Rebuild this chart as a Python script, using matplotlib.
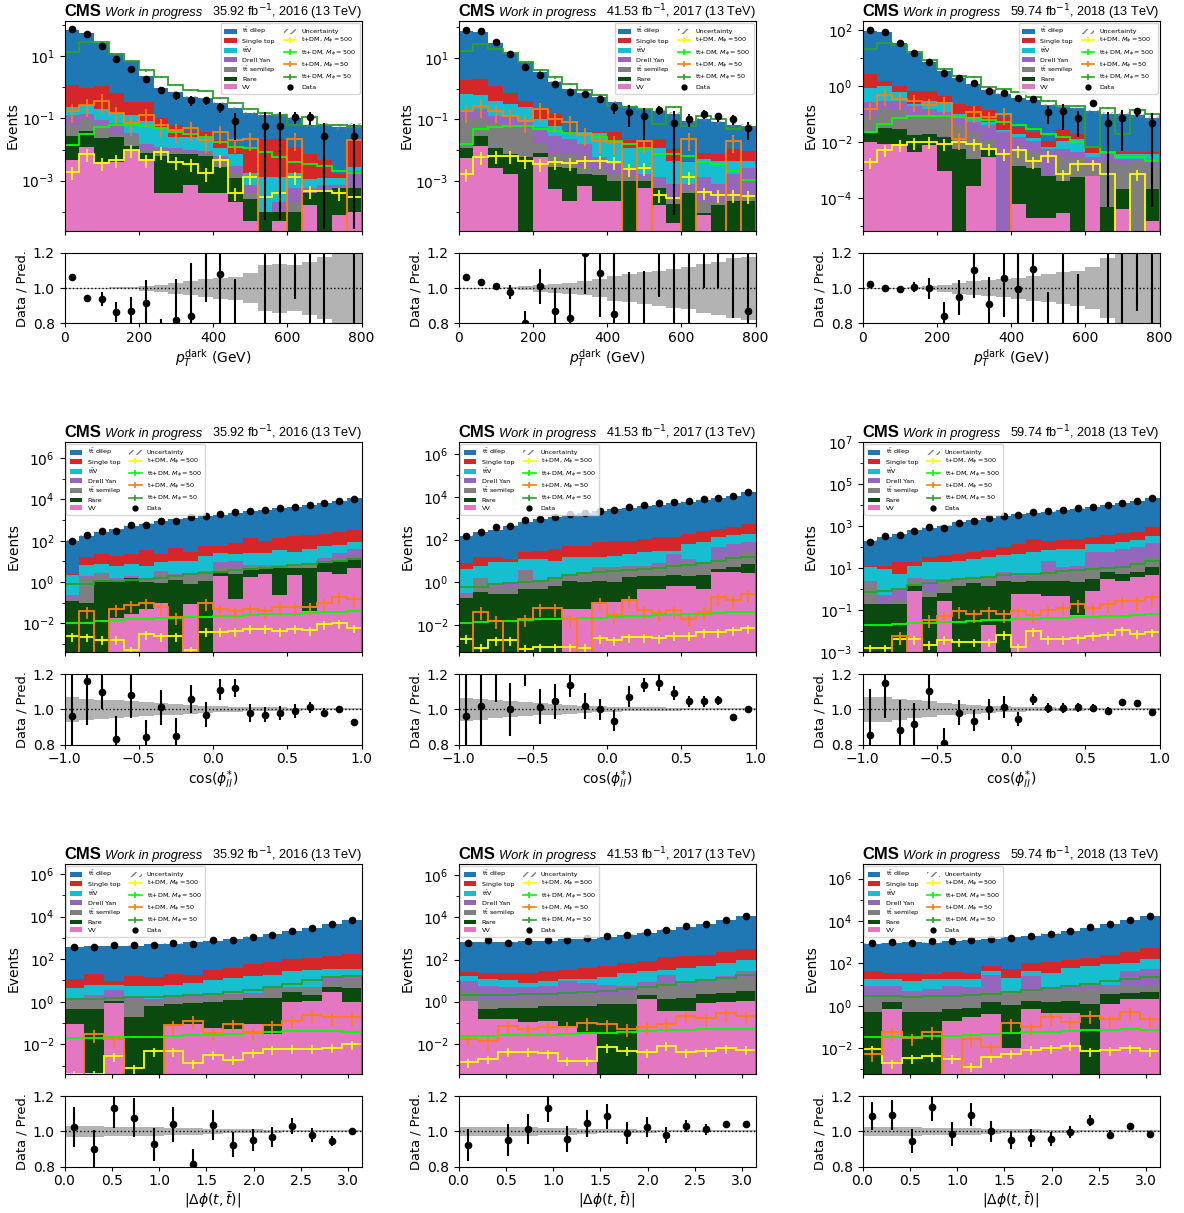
import numpy as np
import matplotlib
matplotlib.use('Agg')
import matplotlib.pyplot as plt
from matplotlib.patches import Patch
from matplotlib.lines import Line2D
from matplotlib.ticker import LogLocator, NullFormatter

plt.rcParams['xtick.major.size'] = 3.0
plt.rcParams['xtick.major.pad'] = 2.5

years = ['2016', '2017', '2018']
lumis = ['35.92', '41.53', '59.74']

# ------------------------------------------------------------------ #
# binning
pt_edges = np.linspace(0., 800., 21)
cos_edges = np.linspace(-1., 1., 21)
dphi_edges = np.linspace(0., np.pi, 16)

# ------------------------------------------------------------------ #
# pT dark : one row per year (2016, 2017, 2018)
pt_vv = [[4.5e-3, 1.2e-2, 4e-3, 4e-3, 1e-2, 5e-3, 4e-4, 4e-4, 7e-4, 4e-4, 4e-4, 2e-4, 5e-5, 0, 5e-5, 0, 1.7e-4, 0, 8e-5, 1e-4],
         [5.6e-3, 1.4e-2, 2.7e-3, 1.7e-3, 0, 6e-3, 5.4e-4, 2.2e-4, 6.8e-4, 2.2e-4, 2.2e-4, 0, 6e-4, 1.7e-4, 4.4e-5, 0, 8e-5, 0, 0, 0],
         [9.7e-3, 8.5e-3, 8.5e-3, 4.3e-3, 7.6e-3, 9.3e-4, 0, 2.7e-4, 2.8e-3, 0, 5.9e-5, 1.9e-5, 1.9e-5, 2.9e-5, 0, 6e-4, 0, 3.8e-5, 0, 1.5e-5]]
pt_rare = [[0.022, 0.028, 0.02, 0.021, 0.003, 0.003, 0.0056, 0.0069, 0.0066, 0.0056, 0.0023, 0.001, 2e-4, 1e-4, 5e-5, 1e-4, 2.3e-4, 5e-4, 5.2e-4, 5e-4],
           [0.0064, 0.015, 0.0093, 0.0058, 0.0058, 0.0023, 0.0022, 0.0025, 0.001, 0.0013, 8e-4, 0.001, 4e-4, 4.3e-4, 1.3e-4, 4e-4, 1e-5, 1.7e-4, 2.2e-4, 2.2e-4],
           [0.012, 0.024, 0.02, 0.013, 0.012, 0.014, 0.0055, 0.0022, 0.0022, 0, 0.0013, 0.0011, 6e-4, 3.8e-4, 5.5e-4, 0, 4.5e-5, 1.6e-4, 0, 1.9e-4]]
pt_semi = [[0.033, 0.048, 0.03, 0.007, 0.015, 0.002, 0.003, 0.0017, 7e-4, 0.001, 0.0013, 6e-4, 1.5e-4, 0, 0, 1e-4, 0, 0, 0, 0],
           [0.088, 0.086, 0.058, 0.055, 0.042, 0.008, 0.0048, 0.0048, 0.001, 7e-4, 8e-4, 5e-4, 2e-4, 1e-4, 1.3e-4, 1e-4, 1.1e-4, 3e-5, 8e-5, 8e-5],
           [0.066, 0.118, 0.111, 0.071, 0.068, 0.055, 0.034, 0.02, 0.008, 0, 0.004, 0.0032, 0, 0.0024, 0.0022, 6e-4, 0.002, 0.0014, 0.0021, 0.001]]
pt_dy = [[0.07, 0.052, 0.034, 0.038, 0.007, 0.005, 0.003, 0.002, 0.002, 0.002, 0.002, 0.0012, 3e-4, 0, 1e-4, 4e-4, 2e-4, 2e-4, 1e-4, 1.5e-3],
         [0.07, 0.105, 0.06, 0.053, 0.032, 0.039, 0.021, 0.015, 0.013, 0.0038, 0.0017, 0.0012, 5e-4, 6e-4, 4.7e-4, 2.7e-4, 0.0011, 5.7e-4, 0.0014, 0.0024],
         [0.18, 0.15, 0.16, 0.1, 0.062, 0.05, 0.031, 0.028, 0.026, 0.022, 0.0095, 0.0067, 0.005, 0.0027, 0.0015, 0.0016, 0.0016, 9e-4, 4e-4, 7e-4]]
pt_ttv = [[0.11, 0.13, 0.12, 0.075, 0.095, 0.065, 0.036, 0.015, 0.016, 0.017, 0.005, 0.0043, 0.001, 0.0012, 0.0011, 0.0011, 5e-4, 5e-4, 5e-4, 6e-4],
          [0.5, 0.38, 0.27, 0.2, 0.17, 0.045, 0.033, 0.012, 0.022, 0.029, 0.0165, 0.0093, 0.0093, 0.0107, 0.0037, 0.0032, 0.0037, 0.0037, 0.0028, 0.0018],
          [0.6, 0.7, 0.3, 0.04, 0.15, 0.11, 0.03, 0.027, 0.011, 0.005, 0.004, 0.003, 0.001, 0.0055, 0.0087, 0.0012, 6e-4, 0.0012, 0.0012, 0.0019]]
pt_st = [[0.96, 0.66, 0.89, 0.5, 0.22, 0.27, 0.052, 0.034, 0.011, 0.011, 0.009, 0.0047, 0.0093, 0.021, 0.021, 0.0103, 0.0059, 0.0033, 4e-4, 0.017],
         [1.23, 1.4, 0.85, 0.38, 0.15, 0.12, 0.088, 0.008, 0.005, 0.003, 0.018, 0.009, 0.007, 0.011, 0.0065, 5e-4, 0.003, 0.003, 0.0065, 0.0051],
         [1.93, 0.6, 0.4, 0.43, 0.4, 0.23, 0.13, 0.113, 0.09, 0.053, 0.015, 0.008, 0.0045, 0.019, 0.006, 0.0025, 2e-4, 8e-4, 8e-4, 7e-4]]
pt_dil = [[71, 55, 26, 12.3, 6.5, 1.95, 0.83, 0.66, 0.46, 0.41, 0.29, 0.2, 0.134, 0.108, 0.108, 0.088, 0.053, 0.058, 0.052, 0.04],
          [75, 69, 30, 13.3, 6.8, 3.2, 1.55, 0.94, 0.66, 0.48, 0.32, 0.26, 0.2, 0.17, 0.14, 0.085, 0.092, 0.072, 0.056, 0.052],
          [95, 86, 34, 14.5, 6.6, 3.0, 1.8, 1.0, 0.59, 0.46, 0.34, 0.3, 0.2, 0.15, 0.14, 0.12, 0.095, 0.095, 0.085, 0.07]]
pt_data = [[77, 53, 21, 8.2, 3.9, 1.9, 0.83, 0.56, 0.39, 0.39, 0.23, 0.084, 0, 0.056, 0.056, 0.113, 0.113, 0.027, 0, 0.027],
           [82, 74, 32, 13.5, 5, 2.8, 1.4, 0.76, 0.67, 0.46, 0.25, 0.18, 0.125, 0.2, 0.076, 0.1, 0.15, 0.125, 0.1, 0.051],
           [100, 87, 35, 15.3, 7.3, 3.0, 1.9, 1.3, 0.67, 0.57, 0.37, 0.35, 0.12, 0.125, 0.073, 0.25, 0.048, 0.073, 0.125, 0.048]]
pt_ratio = [[1.065, 0.945, 0.94, 0.865, 0.87, 0.915, 0.7, 0.82, 0.845, 1.3, 1.08, 0.6, 0, 0.45, 0.45, 1.6, 1.5, 0.5, 0, 0.55],
            [1.065, 1.037, 1.01, 0.98, 0.80, 1.01, 0.87, 0.83, 1.2, 1.085, 0.855, 0.65, 0.6, 1.4, 0.5, 1.35, 1.5, 1.5, 1.3, 0.87],
            [1.023, 1.0, 0.995, 1.008, 1.0, 0.84, 0.948, 1.103, 0.913, 1.057, 0.993, 1.107, 0.6, 0.7, 0.6, 2.0, 0.5, 0.75, 1.35, 0.6]]
pt_rerr = [[0.01, 0.015, 0.04, 0.055, 0.08, 0.13, 0.125, 0.235, 0.3, 0.38, 0.4, 0.45, 0, 0.8, 0.8, 0.66, 0.7, 0.8, 0, 0.8],
           [0.008, 0.012, 0.02, 0.04, 0.07, 0.1, 0.13, 0.17, 0.23, 0.25, 0.35, 0.44, 0.5, 0.45, 0.75, 0.6, 0.5, 0.5, 0.47, 0.5],
           [0.008, 0.005, 0.02, 0.03, 0.06, 0.08, 0.1, 0.16, 0.15, 0.22, 0.27, 0.3, 0.38, 0.55, 0.48, 0.6, 0.75, 0.7, 0.48, 0.75]]
pt_unc = [[0.003, 0.003, 0.004, 0.005, 0.007, 0.013, 0.02, 0.03, 0.04, 0.05, 0.06, 0.065, 0.085, 0.13, 0.14, 0.13, 0.15, 0.175, 0.2, 0.22],
          [0.003, 0.003, 0.003, 0.006, 0.012, 0.02, 0.025, 0.03, 0.04, 0.05, 0.07, 0.08, 0.09, 0.1, 0.11, 0.12, 0.14, 0.15, 0.17, 0.18],
          [0.002, 0.002, 0.003, 0.005, 0.01, 0.02, 0.03, 0.04, 0.045, 0.05, 0.06, 0.07, 0.08, 0.09, 0.1, 0.12, 0.17, 0.2, 0.21, 0.22]]
pt_y500 = [[0.0019, 0.0072, 0.0036, 0.0046, 0.01, 0.0046, 0.0085, 0.004, 0.0035, 0.0017, 0.0045, 4e-4, 0.0013, 3e-4, 4e-4, 0.0013, 4.5e-4, 4.5e-4, 4e-4, 3e-4],
           [0.0017, 0.0058, 0.0066, 0.0066, 0.0045, 0.0035, 0.004, 0.0037, 0.0045, 0.0045, 0.004, 0.0024, 0.0027, 3.6e-4, 2.8e-4, 0.0013, 4.2e-4, 3.6e-4, 3.6e-4, 3.3e-4],
           [0.0019, 0.0052, 0.0081, 0.0097, 0.01, 0.0085, 0.0097, 0.0085, 0.0056, 0.0037, 0.005, 0.002, 0.0032, 7e-4, 0.0016, 0.0016, 7e-4, 0, 7e-4, 0]]
pt_l500 = [[0.014, 0.032, 0.054, 0.06, 0.06, 0.058, 0.048, 0.037, 0.032, 0.025, 0.018, 0.012, 0.011, 0.0085, 0.0056, 0.004, 0.0035, 0.003, 0.0021, 0.0017],
           [0.0157, 0.048, 0.057, 0.062, 0.062, 0.048, 0.041, 0.036, 0.032, 0.026, 0.02, 0.016, 0.012, 0.0075, 0.0075, 0.0066, 0.004, 0.0035, 0.0021, 0.0011],
           [0.022, 0.045, 0.07, 0.088, 0.088, 0.088, 0.077, 0.07, 0.06, 0.05, 0.039, 0.029, 0.019, 0.015, 0.0097, 0.0065, 0.0043, 0.0028, 0.0028, 0.0021]]
pt_o50 = [[0.18, 0.27, 0.37, 0.15, 0.07, 0.13, 0.06, 0.042, 0.048, 0.02, 0.037, 0.02, 0.022, 0, 0, 0.022, 0, 0, 0, 0.02],
          [0.19, 0.28, 0.19, 0.13, 0.09, 0.22, 0.1, 0.08, 0.033, 0.02, 0.018, 0, 0.02, 0, 0, 0.023, 0, 0, 0.02, 0],
          [0.15, 0.49, 0.35, 0.3, 0.22, 0.26, 0.013, 0.12, 0.077, 0.1, 0, 0, 0, 0, 0, 0, 0, 0, 0, 0]]
pt_g50 = [[14, 28, 28, 12, 7, 3.5, 2.2, 1.2, 0.8, 0.75, 0.45, 0.32, 0.2, 0.15, 0.13, 0.06, 0.11, 0.06, 0.06, 0.055],
          [17, 29, 20, 14, 7.2, 3.9, 2.3, 1.4, 0.9, 0.6, 0.28, 0.25, 0.22, 0.07, 0.26, 0.06, 0.13, 0.1, 0.048, 0.055],
          [22, 35, 29, 17, 8.6, 4.2, 2.4, 2.2, 0.9, 0.8, 0.6, 0.4, 0.3, 0.19, 0.19, 0.0065, 0.17, 0.019, 0.14, 0.1]]

# ------------------------------------------------------------------ #
# cos(phi*_ll)
cos_vv = [[0, 0, 0, 0.018, 0.027, 0.05, 0.1, 0, 0.09, 0, 2, 0.15, 1.7, 2.5, 0.24, 2.3, 0.04, 3, 2.5, 4.8],
          [0, 0, 0, 0, 0, 0, 0, 0.057, 0.057, 0.12, 0.12, 0.17, 0.49, 0.49, 0.7, 0.7, 0.49, 2.9, 3, 2.7],
          [0, 0, 0, 0.83, 0, 0.27, 0, 0, 0.02, 0, 0.57, 0.57, 0.48, 0.48, 0.06, 0.83, 3, 2.5, 3.7, 4.5]]
cos_rare = [[0.12, 0.1, 1.2, 1.06, 1.47, 0.91, 0.8, 1.2, 0.71, 1.15, 1.6, 2.35, 3.3, 2.5, 4.8, 2.7, 5, 5, 7.5, 10],
            [0.19, 0.34, 0.28, 0.28, 0.49, 0.49, 0.7, 1.14, 0.94, 1.08, 0.88, 1.53, 1.5, 1.5, 1.6, 1.3, 1.8, 1.3, 2, 4.5],
            [0.19, 0.19, 0.19, 0.57, 0.4, 0.42, 1.4, 2, 1.38, 2.5, 1.53, 1.93, 2.0, 2.0, 2.04, 2.2, 3.4, 2.5, 2.7, 6.5]]
cos_semi = [[0.03, 1.7, 1.3, 0.17, 0.2, 0.24, 1.9, 1.0, 1.7, 1.85, 1.4, 2.5, 1.0, 1, 1, 1, 2, 2, 4, 3],
            [0.06, 1.16, 0.32, 0.32, 3.0, 0.5, 1.0, 0.8, 1.4, 3.8, 3.5, 3.3, 3, 4, 5.7, 7, 5.7, 7.8, 12, 20],
            [1.9, 0.04, 0.11, 1.6, 0.3, 2.3, 1.6, 1.0, 2.1, 1.5, 1.9, 2.5, 3.5, 4.5, 5.9, 5, 4.6, 8, 13.6, 23]]
cos_dy = [[0.08, 0.2, 0.3, 0.35, 0.3, 0.3, 0.8, 0.3, 0.3, 0.5, 4, 6, 1.0, 0.5, 1, 0.5, 1, 4, 11, 22],
          [0.05, 0.1, 0.24, 0.4, 0.1, 0.3, 0.1, 0.2, 0.2, 0.2, 0.5, 1, 1, 2, 13, 3, 1, 34, 45, 47],
          [0.4, 0.27, 0.8, 0.5, 2.3, 0.2, 0.2, 0.5, 0.5, 2.4, 0.5, 0.3, 17, 5, 5, 52, 49, 73, 80, 126]]
cos_ttv = [[2.07, 5.0, 4.8, 4.7, 5.6, 4.8, 5.4, 8.5, 8.2, 14.5, 16, 12, 20, 19, 27, 22, 33, 40, 35, 48],
           [3.9, 4.4, 7.8, 7.6, 8.4, 10.7, 8.2, 12.8, 12.4, 10.8, 12, 15, 19, 22, 9, 48, 65, 81, 98, 106],
           [8.5, 8.8, 4.2, 9.5, 16, 15.8, 19.8, 22.5, 30, 34.6, 44.5, 54, 48, 68, 73, 90, 80, 94, 110, 190]]
cos_st = [[0.3, 10, 15.4, 12.7, 15.4, 27.7, 14, 33, 19, 36, 29, 55, 115, 73, 106, 137, 144, 166, 210, 262],
          [3.5, 10, 6.4, 3.4, 13, 18, 26, 33, 33, 64, 71, 64, 81, 97, 100, 120, 186, 183, 210, 350],
          [2, 3.7, 14.7, 7, 15, 22, 22, 33, 43, 59, 86, 201, 119, 140, 164, 160, 240, 280, 300, 610]]
cos_dil = [[100, 155, 250, 340, 505, 645, 870, 1075, 1245, 1545, 1660, 2110, 2720, 3100, 3690, 4080, 5060, 6520, 7930, 11480],
           [138, 200, 270, 438, 605, 867, 1084, 1326, 1658, 2020, 2479, 2999, 3490, 4134, 5008, 5849, 7013, 8357, 10939, 16470],
           [186, 283, 410, 625, 836, 1038, 1486, 1866, 2373, 3059, 3573, 4096, 4870, 5633, 6766, 8222, 10125, 12016, 14919, 22390]]
cos_data = [[98, 200, 300, 300, 570, 570, 900, 950, 1350, 1550, 1900, 2450, 2800, 3100, 3750, 4200, 5300, 6600, 8200, 11000],
            [140, 220, 370, 450, 820, 910, 1170, 1560, 1740, 2100, 2400, 3300, 4100, 4900, 5600, 6300, 7600, 9100, 10800, 17000],
            [170, 340, 380, 590, 960, 870, 1500, 1800, 2450, 3200, 3500, 4600, 5100, 5900, 7100, 8600, 10400, 13000, 16000, 23000]]
cos_ratio = [[0.96, 1.16, 1.10, 0.83, 1.08, 0.84, 1.01, 0.85, 1.06, 0.97, 1.11, 1.12, 0.98, 0.97, 0.98, 0.99, 1.01, 0.98, 1.0, 0.93],
             [0.96, 1.02, 1.3, 1.0, 1.3, 1.015, 1.045, 1.135, 1.02, 1.0, 0.935, 1.07, 1.14, 1.15, 1.09, 1.045, 1.045, 1.05, 0.955, 1.0],
             [0.854, 1.148, 0.883, 0.915, 1.104, 0.806, 0.98, 0.935, 1.0, 1.013, 0.944, 1.056, 1.008, 1.008, 1.012, 1.008, 0.99, 1.042, 1.037, 0.985]]
cos_rerr = [[0.3, 0.25, 0.1, 0.13, 0.13, 0.1, 0.1, 0.1, 0.08, 0.07, 0.06, 0.05, 0.05, 0.04, 0.04, 0.04, 0.03, 0.025, 0.02, 0.015],
            [0.3, 0.25, 0.26, 0.15, 0.17, 0.1, 0.1, 0.065, 0.075, 0.06, 0.06, 0.06, 0.04, 0.045, 0.04, 0.03, 0.03, 0.025, 0.02, 0.015],
            [0.26, 0.2, 0.17, 0.12, 0.1, 0.09, 0.07, 0.06, 0.06, 0.06, 0.04, 0.03, 0.03, 0.03, 0.025, 0.02, 0.02, 0.015, 0.01, 0.01]]
cos_unc = [[0.07, 0.06, 0.055, 0.05, 0.045, 0.04, 0.035, 0.03, 0.025, 0.02, 0.018, 0.015, 0.012, 0.01, 0.01, 0.008, 0.007, 0.006, 0.005, 0.005],
           [0.065, 0.06, 0.05, 0.045, 0.04, 0.035, 0.03, 0.025, 0.02, 0.017, 0.015, 0.012, 0.01, 0.01, 0.008, 0.007, 0.006, 0.006, 0.005, 0.005],
           [0.07, 0.07, 0.06, 0.05, 0.045, 0.035, 0.03, 0.025, 0.02, 0.017, 0.015, 0.012, 0.01, 0.009, 0.008, 0.007, 0.006, 0.005, 0.005, 0.005]]
cos_y500 = [[0.0024, 0.0022, 0.0016, 0.0016, 5e-4, 0.003, 0.0024, 0.0024, 5e-4, 0.0039, 0.0039, 0.0041, 0.0056, 0.0056, 0.0041, 0.0056, 0.0046, 0.009, 0.01, 0.006],
            [0.0023, 8.5e-4, 0.0019, 0.0019, 7.8e-4, 9e-4, 9e-4, 9e-4, 8.5e-4, 0.0024, 0.0019, 0.0027, 0.0027, 0.0024, 0.0032, 0.0032, 0.0046, 0.0046, 0.0055, 0.0071],
            [0.0015, 0.0015, 0.004, 0.004, 0.0022, 0.0039, 0.003, 0.003, 0.003, 0.0066, 0.0017, 0.0097, 0.004, 0.004, 0.0045, 0.006, 0.0065, 0.011, 0.0075, 0.009]]
cos_l500 = [[0.010, 0.011, 0.013, 0.015, 0.016, 0.017, 0.018, 0.019, 0.02, 0.021, 0.022, 0.023, 0.025, 0.027, 0.028, 0.030, 0.032, 0.034, 0.036, 0.038],
            [0.013, 0.014, 0.015, 0.016, 0.017, 0.018, 0.019, 0.02, 0.021, 0.022, 0.024, 0.026, 0.027, 0.028, 0.03, 0.031, 0.033, 0.036, 0.039, 0.042],
            [0.019, 0.02, 0.022, 0.023, 0.025, 0.026, 0.028, 0.03, 0.032, 0.034, 0.036, 0.038, 0.04, 0.042, 0.045, 0.048, 0.05, 0.055, 0.06, 0.065]]
cos_o50 = [[0, 0.04, 0, 0.05, 0.08, 0.1, 0.06, 0.02, 0, 0.1, 0.05, 0.04, 0.05, 0.04, 0.06, 0.06, 0.06, 0.1, 0.2, 0.15],
           [0, 0.042, 0.016, 0, 0.019, 0.06, 0.06, 0.019, 0, 0.11, 0.028, 0.14, 0.05, 0.036, 0.05, 0.019, 0.042, 0.2, 0.14, 0.27],
           [0, 0, 0.0056, 0, 0.035, 0.05, 0.09, 0.062, 0.09, 0.062, 0.09, 0.06, 0.1, 0.13, 0.19, 0.13, 0.19, 0.27, 0.26, 0.4]]
cos_g50 = [[0.8, 0.8, 1.1, 1.1, 1.2, 1.4, 1.6, 2.0, 2.4, 2.8, 3.2, 3.8, 4.2, 4.8, 5.5, 6.5, 7.5, 9, 11, 13],
           [0.6, 0.6, 0.8, 0.9, 1.0, 1.2, 1.6, 2.3, 2.7, 3.0, 3.3, 3.8, 4.3, 4.7, 5.5, 6.5, 8, 10, 13, 16],
           [0.7, 0.8, 1.0, 1.5, 2.0, 2.5, 3, 3.5, 4, 4.5, 5, 5.5, 6, 7, 8, 9, 10, 12, 16, 22]]

# ------------------------------------------------------------------ #
# |delta phi(t, tbar)|
dphi_vv = [[0.09, 0, 0.9, 0, 0, 0.076, 0.09, 0.056, 0.05, 0.09, 0.03, 1.0, 1.07, 3, 1.0],
           [1.07, 0.15, 0.15, 0.11, 0.12, 0.07, 0.03, 0, 0, 1.3, 0.36, 0.36, 0.9, 1.0, 1.07],
           [0, 0.7, 0, 0, 0.2, 0.28, 0.4, 0.01, 0.7, 0.45, 0.45, 0, 1.2, 2, 2]]
dphi_rare = [[0.39, 0.48, 0.2, 0.2, 0.64, 0.75, 0.74, 0.94, 1.15, 1.4, 1.47, 2.0, 1.0, 2.2, 3.4],
             [0, 0.28, 0.37, 0.41, 0.5, 0.55, 0.62, 0.75, 0.75, 0.8, 0.94, 1.14, 1.3, 1.7, 2.1],
             [0.49, 0.8, 0.49, 0.49, 0.5, 0.47, 1.1, 1.06, 1.0, 1.05, 1.25, 1.2, 2.3, 2.2, 2.5]]
dphi_semi = [[0.9, 0.9, 0.6, 1.2, 0.46, 0.57, 0.87, 0.8, 0.8, 0.7, 2.9, 1.5, 2.4, 3.8, 7.6],
             [2.1, 0.87, 0.88, 1.0, 1.0, 1.4, 1.45, 1.35, 1.65, 3.4, 4.2, 4.0, 5.8, 8.3, 11.8],
             [2.7, 1.5, 2.0, 2.5, 2.3, 2.25, 2.8, 2.4, 3.1, 2.8, 3.8, 5.1, 4, 5.3, 4.5]]
dphi_dy = [[0.2, 0.8, 1.9, 0.2, 0.2, 0.2, 0.3, 0.2, 0.3, 0.3, 0.6, 0.7, 0.5, 4, 4],
           [6.3, 4.2, 3.6, 3.5, 3.9, 7.5, 5.9, 3.9, 3.1, 3.5, 13.5, 2.5, 4, 5, 13],
           [5.5, 5.7, 2.5, 3, 5.7, 4.5, 22.7, 1.5, 20, 2.7, 3.5, 3.2, 2.5, 34.5, 43]]
dphi_ttv = [[2.8, 3.7, 2.7, 4.0, 4.0, 4.4, 5.6, 9, 10.7, 13.5, 14, 21.8, 25, 20, 17],
            [7.5, 6.5, 6, 2.9, 4, 2.5, 4, 9, 17.5, 19, 12, 32, 36, 49, 72],
            [10.3, 9.3, 10, 12, 9.3, 11.5, 17, 16, 19, 27, 54, 65.5, 80, 63, 113]]
dphi_st = [[7.6, 14, 2.7, 10.4, 8.7, 14, 11.4, 19, 27, 46, 58, 73, 90, 112, 142],
           [8, 11, 13, 15, 18.5, 21, 28, 33, 42, 55, 99, 100, 122, 155, 220],
           [25, 16, 19, 12, 21, 17, 31, 31, 56, 81, 87, 110, 170, 233, 375]]
dphi_dil = [[368, 381, 407, 420, 494, 518, 617, 704, 848, 1096, 1391, 1978, 2900, 4405, 6725],
            [638, 629, 618, 696, 751, 888, 927, 1113, 1470, 1819, 2523, 3501, 4780, 7184, 11218],
            [813, 883, 950, 935, 1078, 1179, 1355, 1629, 1875, 2450, 3368, 4532, 6781, 10825, 16211]]
dphi_data = [[390, 360, 470, 470, 470, 560, 520, 760, 820, 1100, 1420, 2140, 2960, 4300, 6900],
             [610, 880, 610, 730, 880, 880, 1010, 1260, 1520, 1950, 2600, 3750, 5000, 7700, 12000],
             [930, 1000, 930, 1100, 1100, 1330, 1430, 1600, 1900, 2450, 3500, 5000, 6900, 11500, 16500]]
dphi_ratio = [[1.025, 0.897, 1.13, 1.077, 0.926, 1.04, 0.817, 1.035, 0.923, 0.95, 0.967, 1.03, 0.98, 0.945, 1.0],
              [0.92, 1.35, 0.95, 1.015, 1.13, 0.955, 1.045, 1.085, 0.99, 1.025, 0.98, 1.03, 1.01, 1.04, 1.04],
              [1.085, 1.09, 0.945, 1.14, 0.985, 1.095, 1.0, 0.952, 0.962, 0.955, 0.995, 1.06, 0.98, 1.03, 0.985]]
dphi_rerr = [[0.115, 0.11, 0.11, 0.11, 0.095, 0.1, 0.085, 0.085, 0.07, 0.06, 0.055, 0.045, 0.04, 0.03, 0.015],
             [0.09, 0.1, 0.09, 0.085, 0.08, 0.075, 0.075, 0.07, 0.06, 0.055, 0.045, 0.035, 0.03, 0.02, 0.015],
             [0.08, 0.085, 0.07, 0.08, 0.07, 0.065, 0.06, 0.05, 0.05, 0.04, 0.035, 0.03, 0.025, 0.015, 0.01]]
dphi_unc = [[0.03, 0.03, 0.025, 0.025, 0.025, 0.02, 0.02, 0.015, 0.012, 0.01, 0.008, 0.007, 0.006, 0.005, 0.005],
            [0.025, 0.025, 0.025, 0.025, 0.02, 0.02, 0.015, 0.012, 0.01, 0.008, 0.007, 0.006, 0.005, 0.005, 0.005],
            [0.025, 0.025, 0.025, 0.02, 0.02, 0.02, 0.015, 0.012, 0.01, 0.009, 0.008, 0.007, 0.006, 0.005, 0.005]]
dphi_y500 = [[4e-4, 4e-4, 0.0028, 7.5e-4, 0.0048, 0.0048, 0.0013, 0.0033, 0.0019, 0.004, 0.0058, 0.0062, 0.0062, 0.0069, 0.01],
             [0.0013, 0.0019, 0.0042, 0.0042, 0.0036, 0.0016, 0.0016, 0.0067, 0.0047, 0.0039, 0.008, 0.0039, 0.0045, 0.006, 0.0052],
             [0.0087, 0.0019, 0.0034, 0.0042, 0.0032, 0.0013, 0.0038, 0.0055, 0.0084, 0.01, 0.013, 0.007, 0.0078, 0.01, 0.0073]]
dphi_l500 = [[0.019, 0.02, 0.021, 0.022, 0.023, 0.025, 0.026, 0.028, 0.03, 0.033, 0.037, 0.041, 0.043, 0.042, 0.037],
             [0.023, 0.024, 0.025, 0.026, 0.027, 0.029, 0.031, 0.033, 0.036, 0.04, 0.043, 0.047, 0.05, 0.051, 0.048],
             [0.033, 0.034, 0.035, 0.037, 0.039, 0.042, 0.045, 0.05, 0.055, 0.06, 0.065, 0.07, 0.075, 0.078, 0.075]]
dphi_o50 = [[0, 0.03, 0.017, 0, 0, 0.08, 0.13, 0.034, 0.09, 0.036, 0.08, 0.13, 0.23, 0.19, 0.19],
            [0.017, 0.013, 0.07, 0.05, 0.06, 0.066, 0.1, 0.085, 0.053, 0.066, 0.09, 0.21, 0.16, 0.28, 0.21],
            [0.0055, 0.056, 0.03, 0.06, 0, 0.027, 0.011, 0.15, 0.1, 0.28, 0.18, 0.34, 0.24, 0.49, 0.24]]
dphi_g50 = [[1.4, 1.4, 1.5, 1.6, 1.7, 1.8, 2.0, 2.3, 2.8, 3.5, 5, 7, 11, 14, 17],
            [2.0, 2.0, 2.1, 2.2, 2.3, 2.5, 2.8, 3.2, 3.8, 5, 6.5, 8.5, 11, 14, 18],
            [2.8, 2.8, 2.5, 2.8, 3, 3.2, 3.5, 4.5, 5.5, 7, 8.5, 11, 14, 18, 22]]

# relative MC stat error on the signal templates
sig_relerr = {'y500': 0.45, 'l500': 0.06, 'o50': 0.6, 'g50': 0.08}

# ------------------------------------------------------------------ #
bkg_labels = [r'$\mathrm{t\bar{t}}$ dilep', 'Single top', r'$\mathrm{t\bar{t}V}$', 'Drell Yan',
              r'$\mathrm{t\bar{t}}$ semilep', 'Rare', 'VV']
bkg_colors = ['#1f77b4', '#d62728', '#17becf', '#9467bd', '#7f7f7f', '#0a4a0f', '#e377c2']
sig_labels = [r't+DM, $M_{\phi} = 500$', r'tt+DM, $M_{\phi} = 500$',
              r't+DM, $M_{\phi} = 50$', r'tt+DM, $M_{\phi} = 50$']
sig_colors = ['#ffff00', '#00ff00', '#ff7f0e', '#2ca02c']

variables = [
    dict(edges=pt_edges, xlabel=r'$p_{T}^{\mathrm{dark}}$ (GeV)', legloc='upper right',
         xticks=[0, 200, 400, 600, 800], xlim=(0, 800),
         bkg=[pt_vv, pt_rare, pt_semi, pt_dy, pt_ttv, pt_st, pt_dil],
         sig=[pt_y500, pt_l500, pt_o50, pt_g50],
         data=pt_data, ratio=pt_ratio, rerr=pt_rerr, unc=pt_unc,
         ylims=[(2.4e-5, 136), (2.35e-5, 158), (6.4e-6, 218)]),
    dict(edges=cos_edges, xlabel=r'$\cos(\phi_{ll}^{*})$', legloc='upper left',
         xticks=[-1.0, -0.5, 0.0, 0.5, 1.0], xlim=(-1, 1),
         bkg=[cos_vv, cos_rare, cos_semi, cos_dy, cos_ttv, cos_st, cos_dil],
         sig=[cos_y500, cos_l500, cos_o50, cos_g50],
         data=cos_data, ratio=cos_ratio, rerr=cos_rerr, unc=cos_unc,
         ylims=[(4.1e-4, 6.1e6), (5.4e-4, 3.7e6), (1.0e-3, 1.05e7)]),
    dict(edges=dphi_edges, xlabel=r'$|\Delta\phi(t,\bar{t})|$', legloc='upper left',
         xticks=[0.0, 0.5, 1.0, 1.5, 2.0, 2.5, 3.0], xlim=(0, np.pi),
         bkg=[dphi_vv, dphi_rare, dphi_semi, dphi_dy, dphi_ttv, dphi_st, dphi_dil],
         sig=[dphi_y500, dphi_l500, dphi_o50, dphi_g50],
         data=dphi_data, ratio=dphi_ratio, rerr=dphi_rerr, unc=dphi_unc,
         ylims=[(4e-4, 3e6), (3.7e-4, 3.4e6), (6e-4, 4.9e6)]),
]
sig_keys = ['y500', 'l500', 'o50', 'g50']

# ------------------------------------------------------------------ #
W, H = 1184., 1213.
col_x = [64.5, 458.5, 862.5]
ax_w = 297.
main_top = [21., 442., 864.]
main_h = 210.
ratio_gap = 22.
ratio_h = 70.5

fig = plt.figure(figsize=(W / 100., H / 100.), dpi=100)

leg_handles = [Patch(facecolor=c, label=l) for c, l in zip(bkg_colors, bkg_labels)]
leg_handles.append(Patch(facecolor='none', edgecolor='gray', hatch='////', linewidth=0, label='Uncertainty'))
for c, l in zip(sig_colors, sig_labels):
    leg_handles.append(Line2D([0], [0], color=c, lw=1.2, marker='|', markersize=5, markeredgewidth=1.2, label=l))
leg_handles.append(Line2D([0], [0], color='k', marker='o', ls='none', markersize=3.5, label='Data'))

hfont = 'Liberation Sans'

for r, var in enumerate(variables):
    edges = var['edges']
    centers = 0.5 * (edges[1:] + edges[:-1])
    for c in range(3):
        left = col_x[c] / W
        ax = fig.add_axes([left, 1 - (main_top[r] + main_h) / H, ax_w / W, main_h / H])
        rtop = main_top[r] + main_h + ratio_gap
        rax = fig.add_axes([left, 1 - (rtop + ratio_h) / H, ax_w / W, ratio_h / H])

        comps = [np.array(b[c], dtype=float) for b in var['bkg']]
        # stacked backgrounds (VV at the bottom, tt dilep on top)
        ax.hist([centers] * len(comps), bins=edges, weights=comps, stacked=True,
                histtype='stepfilled', color=bkg_colors[::-1], log=True)
        total = np.sum(comps, axis=0)
        unc = np.array(var['unc'][c])
        ax.stairs(total * (1 + unc), edges, baseline=total * (1 - unc), fill=True,
                  facecolor='none', edgecolor=(0.5, 0.5, 0.5, 0.6), hatch='////', linewidth=0)

        # signals
        for k, key in enumerate(sig_keys):
            vals = np.array(var['sig'][k][c], dtype=float)
            ax.stairs(vals, edges, color=sig_colors[k], lw=1.3)
            m = vals > 0
            rel = sig_relerr[key]
            lo = vals[m] * min(rel, 0.999)
            hi = vals[m] * rel
            ax.errorbar(centers[m], vals[m], yerr=[lo, hi], fmt='none', ecolor=sig_colors[k], elinewidth=1.2)

        # data
        data = np.array(var['data'][c], dtype=float)
        ratio = np.array(var['ratio'][c], dtype=float)
        rerr = np.array(var['rerr'][c], dtype=float)
        m = data > 0
        derr = data[m] * rerr[m] / ratio[m]
        ax.errorbar(centers[m], data[m], yerr=[np.minimum(derr, data[m] * 0.999), derr],
                    fmt='o', color='k', markersize=4.5, elinewidth=1.5, capsize=0)

        ylo, yhi = var['ylims'][c]
        e0 = int(np.floor(np.log10(ylo) + 1e-6))
        exps = np.arange(e0 - 2, int(np.ceil(np.log10(yhi))) + 3, 2)
        ax.set_yscale('log')
        ax.set_yticks(10.0 ** exps)
        ax.yaxis.set_minor_locator(LogLocator(base=10, subs=(1.0,), numticks=60))
        ax.yaxis.set_minor_formatter(NullFormatter())
        ax.set_xlim(*var['xlim'])
        ax.set_ylim(ylo, yhi)
        ax.set_xticks(var['xticks'])
        ax.tick_params(labelbottom=False)
        ax.set_ylabel('Events', labelpad=1)
        ax.legend(handles=leg_handles, loc=var['legloc'], ncol=2, fontsize=4.6,
                  handlelength=2.0, handleheight=0.8, handletextpad=0.8, columnspacing=1.2,
                  labelspacing=0.3, borderpad=0.5, borderaxespad=0.3)

        ax.text(0.0, 1.024, 'CMS', transform=ax.transAxes, fontsize=12, fontweight='bold',
                family=hfont, ha='left', va='baseline')
        ax.text(0.136, 1.024, 'Work in progress', transform=ax.transAxes, fontsize=9.3,
                style='italic', family=hfont, ha='left', va='baseline')
        ax.text(1.0, 1.024, lumis[c] + r' fb$^{-1}$, ' + years[c] + ' (13 TeV)', transform=ax.transAxes,
                fontsize=9.2, family=hfont, ha='right', va='baseline')

        # ratio panel
        rax.stairs(1 + unc, edges, baseline=1 - unc, fill=True, color='#b3b3b3', linewidth=0)
        rax.axhline(1.0, color='k', ls=':', lw=1.0)
        rax.errorbar(centers[m], ratio[m], yerr=rerr[m], fmt='o', color='k',
                     markersize=4.5, elinewidth=1.5, capsize=0)
        rax.set_xlim(*var['xlim'])
        rax.set_ylim(0.8, 1.2)
        rax.set_yticks([0.8, 1.0, 1.2])
        rax.set_xticks(var['xticks'])
        rax.set_ylabel('Data / Pred.', fontsize=9.4, labelpad=3)
        rax.set_xlabel(var['xlabel'], labelpad=1.5)

fig.savefig('out.png', dpi=100)
